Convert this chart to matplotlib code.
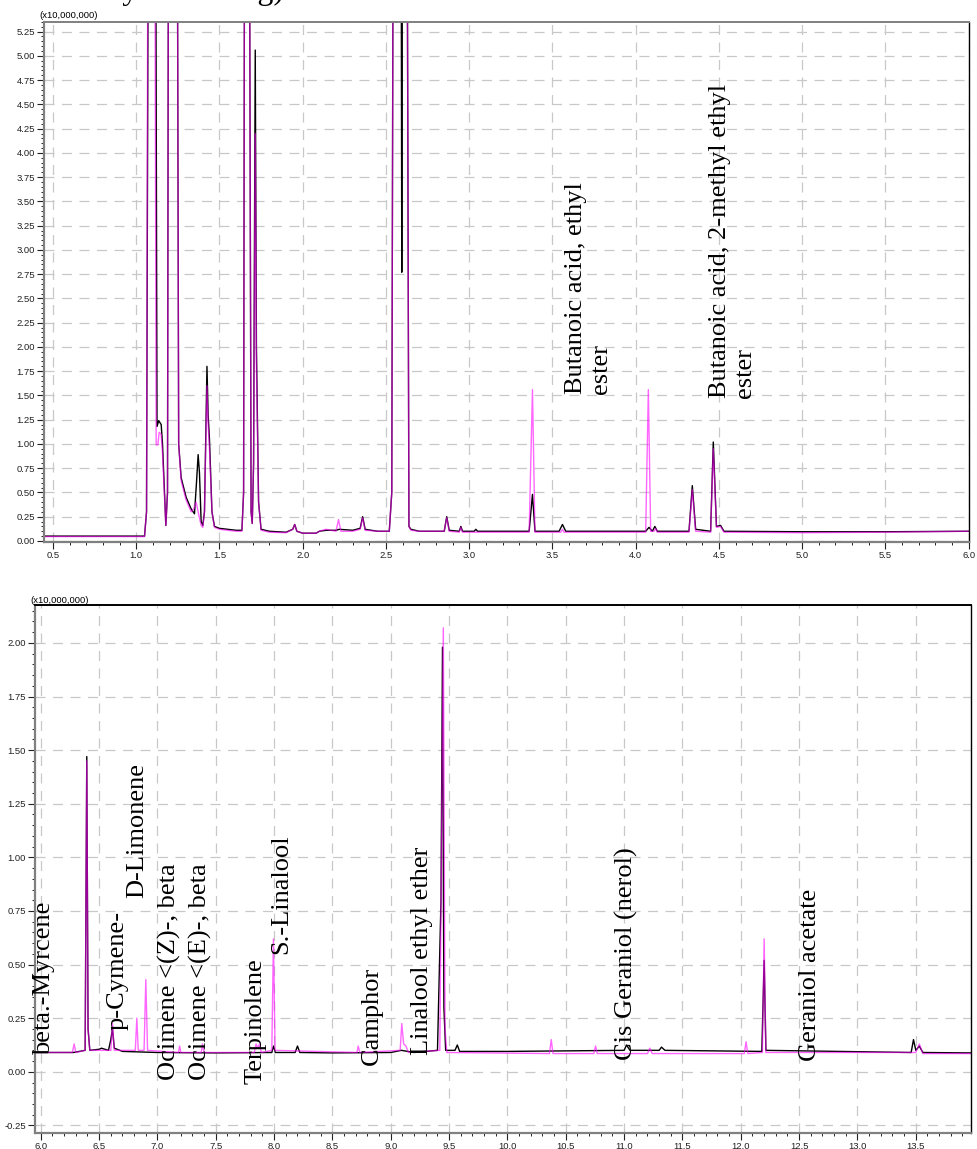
import numpy as np
import matplotlib
matplotlib.use('Agg')
import matplotlib.pyplot as plt
from matplotlib.ticker import MultipleLocator, FormatStrFormatter

plt.rcParams['font.family'] = ['Liberation Sans', 'DejaVu Sans']

# ---- chromatogram vertices (time in min, intensity x10^7)
top_t_black = [0.45, 1.05, 1.062, 1.075, 1.115, 1.125, 1.135, 1.15, 1.158, 1.178, 1.188, 1.195, 1.245, 1.255,
               1.27, 1.30, 1.33, 1.35, 1.362, 1.372, 1.38, 1.39, 1.40, 1.41, 1.425, 1.432, 1.44, 1.455, 1.47,
               1.50, 1.55, 1.60, 1.635, 1.645, 1.652, 1.678, 1.69, 1.697, 1.705, 1.715, 1.722, 1.735, 1.75,
               1.80, 1.90, 1.94, 1.952, 1.965, 2.0, 2.08, 2.10, 2.14, 2.2, 2.22, 2.3, 2.345, 2.36, 2.375, 2.45,
               2.52, 2.535, 2.545, 2.59, 2.595, 2.60, 2.625, 2.638, 2.65, 2.7, 2.85, 2.865, 2.88, 2.94, 2.95,
               2.96, 3.03, 3.04, 3.05, 3.36, 3.38, 3.395, 3.54, 3.56, 3.58, 4.06, 4.08, 4.10, 4.115, 4.13, 4.32,
               4.34, 4.36, 4.45, 4.466, 4.485, 4.51, 4.53, 5.0, 5.5, 6.0]
top_y_black = [0.05, 0.05, 0.3, 8.0, 8.0, 1.18, 1.24, 1.2, 1.0, 0.16, 0.5, 8.0, 8.0, 1.0,
               0.65, 0.45, 0.33, 0.28, 0.6, 0.89, 0.7, 0.2, 0.16, 0.3, 1.80, 1.3, 1.05, 0.3, 0.15,
               0.13, 0.12, 0.11, 0.11, 0.5, 8.0, 8.0, 0.3, 0.18, 0.8, 5.06, 2.0, 0.4, 0.12,
               0.1, 0.09, 0.12, 0.17, 0.1, 0.08, 0.08, 0.1, 0.11, 0.11, 0.12, 0.11, 0.13, 0.25, 0.12, 0.1,
               0.1, 0.5, 8.0, 8.0, 2.77, 8.0, 8.0, 0.15, 0.12, 0.1, 0.1, 0.25, 0.11, 0.1, 0.15,
               0.1, 0.1, 0.12, 0.1, 0.1, 0.48, 0.1, 0.1, 0.17, 0.1, 0.1, 0.14, 0.1, 0.15, 0.1, 0.1,
               0.57, 0.12, 0.1, 1.02, 0.15, 0.16, 0.1, 0.095, 0.095, 0.1]

top_t_pink = [0.45, 1.05, 1.062, 1.072, 1.11, 1.12, 1.13, 1.138, 1.15, 1.158, 1.178, 1.188, 1.195, 1.245,
              1.255, 1.27, 1.30, 1.33, 1.345, 1.36, 1.372, 1.39, 1.40, 1.41, 1.425, 1.432, 1.44, 1.455,
              1.47, 1.50, 1.55, 1.60, 1.635, 1.645, 1.652, 1.678, 1.69, 1.697, 1.705, 1.715, 1.722, 1.735,
              1.75, 1.80, 1.90, 1.94, 1.952, 1.965, 2.0, 2.08, 2.10, 2.14, 2.2, 2.215, 2.23, 2.3, 2.345, 2.36,
              2.375, 2.45, 2.52, 2.535, 2.545, 2.625, 2.638, 2.65, 2.7, 2.85, 2.865, 2.88, 2.94, 2.95, 2.96,
              3.36, 3.38, 3.395, 3.55, 3.56, 3.57, 4.06, 4.076, 4.09, 4.11, 4.12, 4.13, 4.32, 4.34, 4.36, 4.45,
              4.466, 4.485, 4.51, 4.53, 5.0, 5.5, 6.0]
top_y_pink = [0.045, 0.045, 0.3, 8.0, 8.0, 0.99, 0.99, 1.12, 1.1, 0.9, 0.16, 0.5, 8.0, 8.0,
              1.0, 0.62, 0.42, 0.30, 0.33, 0.40, 0.3, 0.16, 0.14, 0.3, 1.60, 1.2, 0.95, 0.3,
              0.14, 0.12, 0.11, 0.1, 0.1, 0.5, 8.0, 8.0, 0.3, 0.18, 0.8, 4.2, 1.8, 0.4,
              0.11, 0.09, 0.085, 0.12, 0.17, 0.1, 0.08, 0.08, 0.1, 0.12, 0.1, 0.22, 0.1, 0.1, 0.12, 0.24,
              0.11, 0.1, 0.1, 0.5, 8.0, 8.0, 0.15, 0.11, 0.1, 0.1, 0.24, 0.1, 0.09, 0.14, 0.09,
              0.09, 1.56, 0.09, 0.09, 0.12, 0.09, 0.09, 1.56, 0.1, 0.1, 0.13, 0.09, 0.09, 0.53, 0.1, 0.09,
              0.95, 0.14, 0.15, 0.09, 0.085, 0.09, 0.1]

bot_t_black = [5.95, 6.28, 6.38, 6.394, 6.405, 6.42, 6.5, 6.52, 6.58, 6.60, 6.614, 6.63, 6.7, 7.0, 7.5,
               7.98, 7.995, 8.01, 8.18, 8.2, 8.22, 8.5, 9.0, 9.09, 9.2, 9.40, 9.43, 9.443, 9.455, 9.47,
               9.55, 9.57, 9.59, 10.0, 11.0, 11.02, 11.05, 11.3, 11.32, 11.35, 12.18, 12.2, 12.215,
               13.46, 13.48, 13.50, 13.53, 13.56, 13.97]
bot_y_black = [0.09, 0.09, 0.10, 1.47, 0.2, 0.1, 0.105, 0.11, 0.1, 0.15, 0.20, 0.11, 0.095, 0.09, 0.088,
               0.09, 0.12, 0.09, 0.09, 0.12, 0.09, 0.088, 0.09, 0.1, 0.09, 0.1, 0.8, 1.98, 0.3, 0.1,
               0.1, 0.125, 0.095, 0.095, 0.1, 0.125, 0.1, 0.1, 0.115, 0.1, 0.095, 0.52, 0.1,
               0.09, 0.15, 0.1, 0.12, 0.09, 0.088]

bot_t_pink = [5.95, 6.27, 6.286, 6.30, 6.38, 6.394, 6.405, 6.42, 6.6, 6.614, 6.63, 6.81, 6.823, 6.835,
              6.885, 6.90, 6.915, 7.18, 7.19, 7.2, 7.375, 7.386, 7.40, 7.83, 7.845, 7.86, 7.875, 7.89,
              7.98, 7.994, 8.008, 8.71, 8.72, 8.735, 9.08, 9.094, 9.11, 9.13, 9.15, 9.42, 9.45, 9.465,
              9.48, 10.36, 10.375, 10.39, 10.74, 10.755, 10.77, 11.2, 11.22, 11.24, 12.03, 12.045, 12.06,
              12.185, 12.2, 12.215, 13.5, 13.53, 13.56, 13.97]
bot_y_pink = [0.09, 0.09, 0.13, 0.09, 0.1, 1.45, 0.2, 0.1, 0.1, 0.225, 0.1, 0.1, 0.25, 0.1,
              0.1, 0.43, 0.1, 0.09, 0.12, 0.09, 0.09, 0.13, 0.09, 0.09, 0.13, 0.11, 0.13, 0.09,
              0.1, 0.62, 0.1, 0.09, 0.12, 0.09, 0.1, 0.225, 0.13, 0.12, 0.09, 0.1, 2.07, 0.2,
              0.09, 0.085, 0.15, 0.085, 0.085, 0.12, 0.085, 0.085, 0.11, 0.085, 0.085, 0.14, 0.085,
              0.09, 0.62, 0.09, 0.09, 0.13, 0.085, 0.085]

# ---- compound labels
top_names = ['Butanoic acid, ethyl\nester', 'Butanoic acid, 2-methyl ethyl\nester']
top_lx = [3.715, 4.58]
top_ly = [1.52, 1.47]

bot_names = ['beta.-Myrcene', 'p-Cymene-', 'D-Limonene', 'Ocimene <(Z)-, beta', 'Ocimene <(E)-, beta',
             'Terpinolene', 'S.-Linalool', 'Camphor', 'Linalool ethyl ether', 'Cis Geraniol (nerol)',
             'Geraniol acetate']
bot_lx = [6.03, 6.66, 6.83, 7.10, 7.37, 7.84, 8.06, 8.84, 9.27, 11.02, 12.59]
bot_ly = [0.078, 0.195, 0.81, -0.04, -0.04, -0.055, 0.55, 0.03, 0.078, 0.055, 0.05]

fig = plt.figure(figsize=(9.77, 11.49), dpi=100)
ax1 = fig.add_axes([0.0450, 0.5286, 0.9465, 0.4523])
ax2 = fig.add_axes([0.0358, 0.0142, 0.9577, 0.4593])

def style(ax, xlim, ylim, top_col):
    ax.set_xlim(*xlim)
    ax.set_ylim(*ylim)
    ax.xaxis.set_major_locator(MultipleLocator(0.5))
    ax.xaxis.set_minor_locator(MultipleLocator(0.1))
    ax.yaxis.set_major_locator(MultipleLocator(0.25))
    ax.yaxis.set_minor_locator(MultipleLocator(0.05))
    ax.xaxis.set_major_formatter(FormatStrFormatter('%.1f'))
    ax.yaxis.set_major_formatter(FormatStrFormatter('%.2f'))
    ax.tick_params(which='major', direction='out', length=5, width=0.8, labelsize=6.8, pad=1.5, colors='#222222')
    ax.tick_params(which='minor', direction='out', length=2.5, width=0.7, colors='#222222')
    ax.grid(which='major', color='#c8c8c8', linestyle=(0, (8, 6)), linewidth=0.9)
    ax.set_axisbelow(True)
    ax.spines['left'].set_color('#808080')
    ax.spines['left'].set_linewidth(1.6)
    ax.spines['bottom'].set_color('#808080')
    ax.spines['bottom'].set_linewidth(1.6)
    ax.spines['top'].set_color(top_col)
    ax.spines['top'].set_linewidth(1.4)
    ax.spines['right'].set_color('black')
    ax.spines['right'].set_linewidth(1.0)

style(ax1, (0.446, 6.0), (-0.007, 5.35), '#808080')
style(ax2, (5.95, 13.97), (-0.284, 2.177), 'black')

ax1.plot(top_t_black, top_y_black, color='black', lw=1.0)
ax1.plot(top_t_pink, top_y_pink, color='#ff00ff', lw=1.0, alpha=0.6)
ax2.plot(bot_t_black, bot_y_black, color='black', lw=1.0)
ax2.plot(bot_t_pink, bot_y_pink, color='#ff00ff', lw=1.0, alpha=0.6)

for name, x, y in zip(top_names, top_lx, top_ly):
    ax1.text(x, y, name, rotation=90, ha='center', va='bottom', family='Liberation Serif',
             fontsize=19, multialignment='left')
for name, x, y in zip(bot_names, bot_lx, bot_ly):
    ax2.text(x, y, name, rotation=90, ha='center', va='bottom', family='Liberation Serif', fontsize=19)

fig.text(39 / 977, 1 - 15.7 / 1149, '(x10,000,000)', fontsize=6.8, va='center', ha='left')
fig.text(30 / 977, 1 - 600.7 / 1149, '(x10,000,000)', fontsize=6.8, va='center', ha='left')

# title cut off by the top edge in the reference, only descenders remain
fig.text(5 / 977, 1.0 + 1 / 1149, 'Chemistry in Mixing)', family='Liberation Serif',
         fontsize=23, va='baseline', ha='left')

fig.savefig('out.png', dpi=100)
